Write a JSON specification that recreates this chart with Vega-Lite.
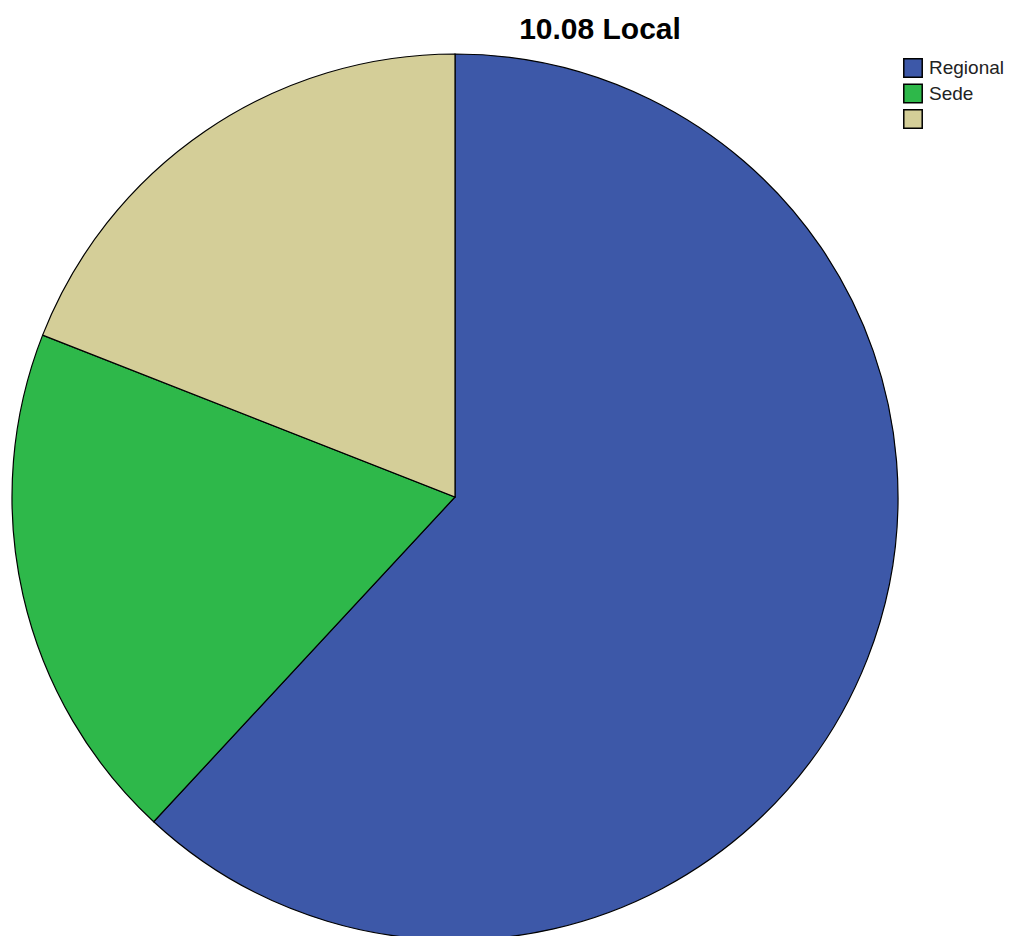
{
  "$schema": "https://vega.github.io/schema/vega-lite/v6.json",
  "autosize": {"type": "none"},
  "padding": {"top": 58, "left": 0, "right": 101, "bottom": 0},
  "width": 910,
  "height": 878,
  "background": "white",
  "title": {
    "text": "10.08 Local",
    "font": "Liberation Sans",
    "fontSize": 30,
    "fontWeight": "bold",
    "color": "#000000",
    "anchor": "middle",
    "dx": 145,
    "offset": 7
  },
  "data": {
    "values": [
      {"categoria": "Regional", "n": 13, "ord": 1},
      {"categoria": "Sede", "n": 4, "ord": 2},
      {"categoria": " ", "n": 4, "ord": 3}
    ]
  },
  "mark": {"type": "arc", "outerRadius": 443, "stroke": "#000000", "strokeWidth": 1.2},
  "encoding": {
    "theta": {"field": "n", "type": "quantitative", "stack": true},
    "order": {"field": "ord", "type": "quantitative"},
    "color": {
      "field": "categoria",
      "type": "nominal",
      "scale": {"domain": ["Regional", "Sede", " "], "range": ["#3d58a8", "#2eb84a", "#d4ce98"]},
      "legend": {
        "title": null,
        "orient": "none",
        "legendX": 903,
        "legendY": 0,
        "symbolType": "square",
        "symbolSize": 340,
        "symbolStrokeColor": "#000000",
        "symbolStrokeWidth": 1.5,
        "symbolOpacity": 1,
        "labelFont": "Liberation Sans",
        "labelFontSize": 19,
        "labelColor": "#222222",
        "rowPadding": -0.5,
        "labelOffset": 6
      }
    }
  }
}
